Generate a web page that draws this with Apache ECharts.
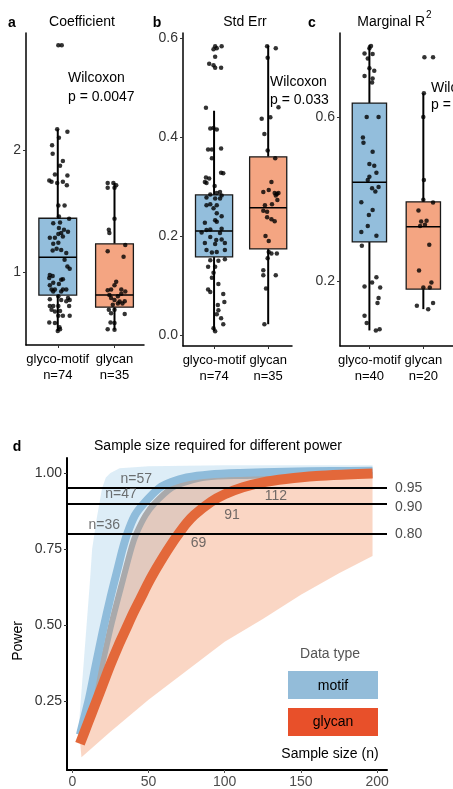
<!DOCTYPE html>
<html>
<head>
<meta charset="utf-8">
<script src="https://cdn.jsdelivr.net/npm/echarts@6/dist/echarts.min.js"></script>
<style>
  html, body { margin: 0; padding: 0; background: #fff; }
  #chart { width: 453px; height: 789px; }
</style>
</head>
<body>
<div id="chart"></div>
<script>
// ---- data: top panels ----
const groups = ['glyco-motif', 'glycan'];
const coefCounts = [74, 35];
const seCounts = [74, 35];
const r2Counts = [40, 20];

// box stats: [lower whisker, q1, median, q3, upper whisker]
const coefBox = [[0.515, 0.81, 1.12, 1.44, 2.17], [0.525, 0.71, 0.81, 1.23, 1.73]];
const seBox = [[0.008, 0.158, 0.21, 0.283, 0.453], [0.022, 0.174, 0.257, 0.36, 0.585]];
const r2Box = [[0.079, 0.295, 0.441, 0.634, 0.776], [0.131, 0.18, 0.332, 0.393, 0.658]];

// jittered points (value, horizontal jitter in category units)
const coefMotif = [2.86, 2.86, 2.17, 2.15, 2.10, 2.04, 1.97, 1.91, 1.87, 1.80, 1.79, 1.75, 1.74, 1.73, 1.74, 1.71,
  1.545, 1.545, 1.455, 1.435, 1.405, 1.40, 1.36, 1.345, 1.33, 1.31, 1.32, 1.28, 1.28, 1.29, 1.23, 1.24, 1.175, 1.19,
  1.18, 1.155, 1.10, 1.045, 1.025, 0.975, 0.967, 0.95, 0.935, 0.94, 0.91, 0.89, 0.90, 0.855, 0.855, 0.855, 0.855,
  0.84, 0.84, 0.80, 0.785, 0.77, 0.76, 0.775, 0.77, 0.72, 0.72, 0.72, 0.72, 0.69, 0.675, 0.68, 0.64, 0.64, 0.64,
  0.585, 0.58, 0.545, 0.53, 0.515];
const coefMotifJit = [0.01, 0.07, -0.01, 0.17, 0.02, -0.10, -0.09, 0.09, 0.04, -0.05, 0.17, -0.15, -0.11, -0.01, 0.09, 0.16,
  0.01, 0.12, 0.02, 0.20, 0.04, -0.08, 0.02, 0.11, 0.18, 0.01, 0.06, -0.14, -0.05, 0.09, -0.08, 0.01, -0.09, -0.02,
  0.06, 0.15, 0.12, 0.17, 0.21, -0.14, -0.09, -0.15, 0.06, 0.09, -0.08, -0.14, 0.02, -0.11, -0.05, 0.09, 0.15,
  -0.08, 0.06, 0.01, 0.18, 0.21, 0.15, -0.14, 0.06, -0.14, -0.08, 0.01, 0.20, -0.11, -0.05, 0.04, 0.01, 0.09, 0.21,
  -0.15, -0.05, 0.03, 0.04, 0.0];
const coefGlycan = [1.73, 1.69, 1.73, 1.71, 1.69, 1.435, 1.345, 1.32, 1.22, 1.17, 1.125, 0.92, 0.89, 0.855, 0.85, 0.855,
  0.84, 0.81, 0.80, 0.82, 0.785, 0.77, 0.756, 0.74, 0.76, 0.73, 0.74, 0.69, 0.69, 0.66, 0.655, 0.585, 0.58, 0.53, 0.525];
const coefGlycanJit = [-0.12, -0.12, -0.02, 0.03, 0.0, 0.0, -0.10, -0.09, 0.19, -0.12, 0.16, 0.03, 0.0, -0.06, -0.12, 0.12,
  0.19, -0.09, 0.06, 0.12, -0.06, 0.0, 0.09, 0.14, 0.18, -0.03, 0.06, -0.10, 0.0, -0.06, 0.18, -0.07, 0.0, -0.12, 0.0];

const seMotif = [0.583, 0.583, 0.577, 0.579, 0.562, 0.548, 0.545, 0.54, 0.54, 0.459, 0.417, 0.418, 0.415, 0.375, 0.375,
  0.377, 0.357, 0.318, 0.316, 0.328, 0.327, 0.309, 0.307, 0.301, 0.284, 0.287, 0.289, 0.282, 0.278, 0.276, 0.276,
  0.262, 0.264, 0.262, 0.256, 0.246, 0.24, 0.227, 0.232, 0.229, 0.212, 0.213, 0.215, 0.207, 0.206, 0.198, 0.192,
  0.193, 0.186, 0.184, 0.186, 0.172, 0.167, 0.168, 0.172, 0.151, 0.15, 0.153, 0.138, 0.138, 0.126, 0.116, 0.103,
  0.092, 0.087, 0.083, 0.067, 0.061, 0.05, 0.042, 0.034, 0.022, 0.014, 0.008];
const seMotifJit = [0.02, 0.14, -0.01, 0.05, 0.02, -0.09, -0.01, 0.02, 0.13, -0.15, -0.07, -0.01, 0.05, -0.11, -0.04,
  0.13, -0.04, -0.15, -0.09, 0.13, 0.17, -0.17, -0.14, 0.01, -0.07, 0.05, 0.11, 0.14, -0.14, 0.02, 0.11,
  -0.14, -0.07, 0.05, -0.01, 0.05, 0.14, -0.17, 0.02, 0.05, -0.14, -0.07, 0.14, -0.23, 0.11, -0.07, 0.04,
  0.14, -0.17, 0.02, 0.20, -0.14, -0.04, 0.05, 0.20, -0.07, 0.08, 0.20, -0.11, 0.02, -0.01, -0.04, 0.08,
  -0.11, -0.07, 0.17, 0.19, 0.07, 0.08, 0.05, 0.13, 0.17, -0.01, 0.02];
const seGlycan = [0.583, 0.579, 0.56, 0.46, 0.437, 0.44, 0.406, 0.373, 0.357, 0.309, 0.289, 0.293, 0.287, 0.285, 0.287,
  0.282, 0.273, 0.262, 0.264, 0.251, 0.249, 0.238, 0.234, 0.23, 0.2, 0.19, 0.168, 0.165, 0.165, 0.155, 0.131, 0.121,
  0.121, 0.094, 0.022];
const seGlycanJit = [-0.02, 0.14, -0.01, 0.19, -0.12, 0.04, -0.07, -0.01, 0.13, 0.06, -0.09, 0.01, 0.12, 0.16, 0.19,
  0.14, 0.17, -0.06, 0.07, -0.09, -0.02, -0.02, 0.06, 0.12, -0.05, 0.01, 0.01, 0.06, 0.16, -0.01, -0.09, -0.09,
  0.14, -0.04, -0.07];

const r2Motif = [0.773, 0.768, 0.755, 0.754, 0.743, 0.719, 0.713, 0.70, 0.694, 0.684, 0.60, 0.60, 0.55, 0.537, 0.515,
  0.485, 0.481, 0.464, 0.454, 0.446, 0.426, 0.418, 0.429, 0.392, 0.361, 0.373, 0.334, 0.319, 0.31, 0.286, 0.196,
  0.209, 0.186, 0.184, 0.158, 0.146, 0.115, 0.097, 0.079, 0.082];
const r2MotifJit = [0.03, 0.0, -0.09, 0.06, -0.03, 0.0, 0.09, -0.09, 0.06, 0.05, -0.05, 0.17, -0.12, -0.11, 0.06,
  0.0, 0.09, 0.13, 0.0, -0.03, 0.05, 0.11, 0.17, -0.15, -0.01, 0.06, -0.03, -0.15, 0.13, -0.14, 0.05,
  0.13, -0.09, 0.20, 0.17, 0.15, -0.09, -0.05, 0.12, 0.19];
const r2Glycan = [0.746, 0.746, 0.658, 0.60, 0.446, 0.398, 0.391, 0.372, 0.345, 0.347, 0.334, 0.337, 0.288, 0.225,
  0.196, 0.184, 0.184, 0.139, 0.131, 0.146];
const r2GlycanJit = [0.02, 0.18, 0.01, 0.0, 0.01, 0.0, 0.18, -0.09, -0.04, 0.06, -0.06, 0.03, 0.11, -0.08,
  0.15, 0.0, 0.12, -0.12, 0.09, 0.18];

// ---- data: power panel ----
const motifN = [5, 8, 11, 15, 20, 25, 30, 33, 36, 41, 47, 57, 65, 75, 90, 110, 140, 170, 197];
const motifPower = [0.14, 0.2, 0.26, 0.36, 0.48, 0.59, 0.69, 0.75, 0.8, 0.86, 0.9, 0.95, 0.97, 0.985, 0.995, 1.0, 1.004, 1.006, 1.007];
const grayN = [5, 10, 15, 20, 26, 33, 39, 42, 48, 54, 65, 75, 88, 110, 140, 170, 197];
const grayPower = [0.12, 0.2, 0.28, 0.38, 0.51, 0.645, 0.757, 0.8, 0.86, 0.9, 0.95, 0.97, 0.985, 0.99, 0.992, 0.993, 0.993];
const glycanN = [5, 10, 15, 20, 25, 30, 35, 40, 45, 50, 55, 60, 65, 69, 75, 80, 91, 100, 112, 125, 140, 160, 180, 197];
const glycanPower = [0.11, 0.175, 0.24, 0.305, 0.37, 0.43, 0.485, 0.54, 0.59, 0.64, 0.685, 0.727, 0.766, 0.795,
  0.835, 0.862, 0.905, 0.93, 0.953, 0.969, 0.98, 0.99, 0.995, 0.998];
// confidence ribbons
const motifBandN = [4, 5.5, 7.5, 9.5, 11.5, 13, 16, 19.5, 22, 25, 31, 50, 100, 197];
const motifBandUpper = [0.15, 0.25, 0.38, 0.51, 0.64, 0.75, 0.85, 0.95, 0.985, 1.0, 1.015, 1.022, 1.025, 1.025];
const glycanBandN = [6, 25, 50, 75, 100, 125, 150, 175, 197];
const glycanBandLower = [0.066, 0.15, 0.255, 0.35, 0.445, 0.52, 0.6, 0.67, 0.727];

const powerLevels = [0.8, 0.9, 0.95];
const motifNeeded = [36, 47, 57];
const glycanNeeded = [69, 91, 112];

// ---- helpers ----
const FONT = '"Liberation Sans", Arial, Helvetica, sans-serif';
const boxFill = ['#93bedc', '#f4a582'];

function zip(xs, ys) { return xs.map((x, i) => [x, ys[i]]); }
function jitter(cat, vals, jit) { return vals.map((v, i) => [cat + jit[i], v]); }

function boxItem(hw) {
  return function (params, api) {
    const x = api.value(0);
    const lo = api.coord([x, api.value(1)]);
    const q1 = api.coord([x, api.value(2)]);
    const md = api.coord([x, api.value(3)]);
    const q3 = api.coord([x, api.value(4)]);
    const hi = api.coord([x, api.value(5)]);
    const l = api.coord([x - hw, api.value(3)])[0];
    const r = api.coord([x + hw, api.value(3)])[0];
    return {
      type: 'group',
      children: [
        { type: 'line', shape: { x1: lo[0], y1: lo[1], x2: q1[0], y2: q1[1] }, style: { stroke: '#000', lineWidth: 2 } },
        { type: 'line', shape: { x1: q3[0], y1: q3[1], x2: hi[0], y2: hi[1] }, style: { stroke: '#000', lineWidth: 2 } },
        { type: 'rect', shape: { x: l, y: q3[1], width: r - l, height: q1[1] - q3[1] },
          style: { fill: boxFill[params.dataIndex], stroke: '#1a1a1a', lineWidth: 1.3 } },
        { type: 'line', shape: { x1: l, y1: md[1], x2: r, y2: md[1] }, style: { stroke: '#000', lineWidth: 1.5 } }
      ]
    };
  };
}

function ribbon(upper, lower, color) {
  return function (params, api) {
    const pts = upper.map(p => api.coord(p)).concat(lower.slice().reverse().map(p => api.coord(p)));
    return { type: 'polygon', shape: { points: pts }, style: { fill: color } };
  };
}

function catAxis(k, min, max, counts) {
  return {
    gridIndex: k, type: 'value', min: min, max: max,
    axisLine: { show: true, onZero: false, lineStyle: { color: '#000', width: 1.5 } },
    splitLine: { show: false },
    axisTick: { show: true, length: 3, customValues: [1, 2], lineStyle: { color: '#333' } },
    axisLabel: {
      customValues: [1, 2], color: '#000', fontSize: 13, lineHeight: 16, margin: 6, fontFamily: FONT,
      hideOverlap: false,
      formatter: v => groups[v - 1] + '\nn=' + counts[v - 1]
    }
  };
}

function valAxis(k, min, max, ticks, digits) {
  return {
    gridIndex: k, type: 'value', min: min, max: max,
    axisLine: { show: true, onZero: false, lineStyle: { color: '#000', width: 1.5 } },
    splitLine: { show: false },
    axisTick: { show: true, length: 3, customValues: ticks, lineStyle: { color: '#333' } },
    axisLabel: { customValues: ticks, color: '#333', fontSize: 14, margin: 5, fontFamily: FONT,
      formatter: v => v.toFixed(digits) }
  };
}

function panelSeries(k, box, hw, motifVals, motifJit, glyVals, glyJit) {
  return [
    { type: 'custom', xAxisIndex: k, yAxisIndex: k, renderItem: boxItem(hw), silent: true, z: 2,
      encode: { x: 0, y: [1, 2, 3, 4, 5] },
      data: [[1].concat(box[0]), [2].concat(box[1])] },
    { type: 'scatter', xAxisIndex: k, yAxisIndex: k, symbolSize: 4.5, silent: true, z: 3,
      itemStyle: { color: '#000' },
      data: jitter(1, motifVals, motifJit).concat(jitter(2, glyVals, glyJit)) }
  ];
}

function txt(x, y, text, opts) {
  return Object.assign({
    type: 'text', x: x, y: y, silent: true,
    style: Object.assign({ text: text, fill: '#000', fontSize: 14, fontFamily: FONT,
      textAlign: 'center', textVerticalAlign: 'middle' }, (opts && opts.style) || {})
  }, (opts && opts.el) || {});
}

function curve(n, p, color, width, z) {
  return { type: 'line', xAxisIndex: 3, yAxisIndex: 3, silent: true, z: z, showSymbol: false,
    smooth: 0.3, data: zip(n, p), lineStyle: { color: color, width: width, cap: 'butt', join: 'round' } };
}

const chart = echarts.init(document.getElementById('chart'), null, { renderer: 'canvas' });

const option = {
  animation: false,
  backgroundColor: '#fff',
  textStyle: { fontFamily: FONT },
  grid: [
    { left: 26, top: 33, width: 118, height: 312 },
    { left: 183, top: 33, width: 109, height: 313 },
    { left: 340, top: 33, width: 115, height: 313 },
    { left: 67, top: 458, width: 320, height: 313 }
  ],
  xAxis: [
    catAxis(0, 0.44, 2.52, coefCounts),
    catAxis(1, 0.426, 2.44, seCounts),
    catAxis(2, 0.455, 2.55, r2Counts),
    {
      gridIndex: 3, type: 'value', min: -3.5, max: 206.5,
      axisLine: { show: true, onZero: false, lineStyle: { color: '#000', width: 2 } },
      splitLine: { show: false },
      axisTick: { show: true, length: 3, customValues: [0, 50, 100, 150, 200], lineStyle: { color: '#555' } },
      axisLabel: { customValues: [0, 50, 100, 150, 200], color: '#4d4d4d', fontSize: 14, margin: 5, fontFamily: FONT }
    }
  ],
  yAxis: [
    valAxis(0, 0.4, 2.96, [1, 2], 0),
    valAxis(1, -0.022, 0.61, [0, 0.2, 0.4, 0.6], 1),
    valAxis(2, 0.041, 0.805, [0.2, 0.6], 1),
    Object.assign(valAxis(3, 0.024, 1.049, [0.25, 0.5, 0.75, 1], 2), {
      axisLine: { show: true, onZero: false, lineStyle: { color: '#000', width: 2 } }
    })
  ],
  series: [
    ...panelSeries(0, coefBox, 0.333, coefMotif, coefMotifJit, coefGlycan, coefGlycanJit),
    ...panelSeries(1, seBox, 0.343, seMotif, seMotifJit, seGlycan, seGlycanJit),
    ...panelSeries(2, r2Box, 0.318, r2Motif, r2MotifJit, r2Glycan, r2GlycanJit),
    // power panel ribbons
    { type: 'custom', xAxisIndex: 3, yAxisIndex: 3, silent: true, z: 1, clip: true,
      renderItem: ribbon(zip(motifBandN, motifBandUpper), zip(glycanN, glycanPower), 'rgba(150,200,230,0.32)'),
      data: [[100, 0.5]] },
    { type: 'custom', xAxisIndex: 3, yAxisIndex: 3, silent: true, z: 1, clip: true,
      renderItem: ribbon(zip(grayN, grayPower), zip(glycanBandN, glycanBandLower), 'rgba(240,120,60,0.3)'),
      data: [[100, 0.5]] },
    // power curves
    curve(grayN, grayPower, '#a9a9ab', 6, 2),
    curve(motifN, motifPower, '#8fbcdb', 8, 3),
    curve(glycanN, glycanPower, '#e3683a', 10, 4),
    // reference lines + required sample size labels
    { type: 'scatter', xAxisIndex: 3, yAxisIndex: 3, silent: true, z: 6, symbolSize: 0,
      label: { show: true, color: '#4d4d4d', fontSize: 14, fontFamily: FONT, position: 'inside' },
      data: motifNeeded.map((n, i) => ({ value: [n, powerLevels[i]],
        label: { formatter: 'n=' + n, offset: [-23, -9] } }))
        .concat(glycanNeeded.map((n, i) => ({ value: [n, powerLevels[i]],
          label: { formatter: String(n), offset: i === 2 ? [33, 8] : [21, 9 + (i === 1 ? 3 : 0)] } }))),
      markLine: {
        silent: true, symbol: ['none', 'none'],
        lineStyle: { color: '#000', width: 2, type: 'solid' },
        label: { show: true, position: 'end', color: '#4d4d4d', fontSize: 14, fontFamily: FONT, distance: 8,
          formatter: p => p.value.toFixed(2) },
        data: powerLevels.map(v => v === 0.9 ? { yAxis: v, label: { offset: [0, 4] } } : { yAxis: v })
      } }
  ],
  graphic: [
    txt(12, 23, 'a', { style: { fontWeight: 'bold' } }),
    txt(157, 23, 'b', { style: { fontWeight: 'bold' } }),
    txt(312, 23, 'c', { style: { fontWeight: 'bold' } }),
    txt(17, 447, 'd', { style: { fontWeight: 'bold' } }),
    txt(82, 22, 'Coefficient'),
    txt(245, 22, 'Std Err'),
    txt(425, 22, 'Marginal R', { style: { textAlign: 'right' } }),
    txt(426, 15, '2', { style: { textAlign: 'left', fontSize: 10 } }),
    txt(68, 78, 'Wilcoxon', { style: { textAlign: 'left' } }),
    txt(68, 97, 'p = 0.0047', { style: { textAlign: 'left' } }),
    txt(270, 82, 'Wilcoxon', { style: { textAlign: 'left' } }),
    txt(270, 100, 'p = 0.033', { style: { textAlign: 'left' } }),
    txt(431, 88, 'Wilcoxon', { style: { textAlign: 'left' } }),
    txt(431, 105, 'p = 0.0047', { style: { textAlign: 'left' } }),
    txt(218, 446, 'Sample size required for different power'),
    txt(18, 641, 'Power', { el: { rotation: Math.PI / 2 } }),
    txt(330, 654, 'Data type', { style: { fill: '#555' } }),
    { type: 'rect', silent: true, shape: { x: 288, y: 671, width: 90, height: 28 }, style: { fill: '#93bcd9' } },
    txt(333, 686, 'motif'),
    { type: 'rect', silent: true, shape: { x: 288, y: 708, width: 90, height: 28 }, style: { fill: '#e8502a' } },
    txt(333, 722, 'glycan'),
    txt(330, 754, 'Sample size (n)')
  ]
};

chart.setOption(option);
</script>
</body>
</html>
